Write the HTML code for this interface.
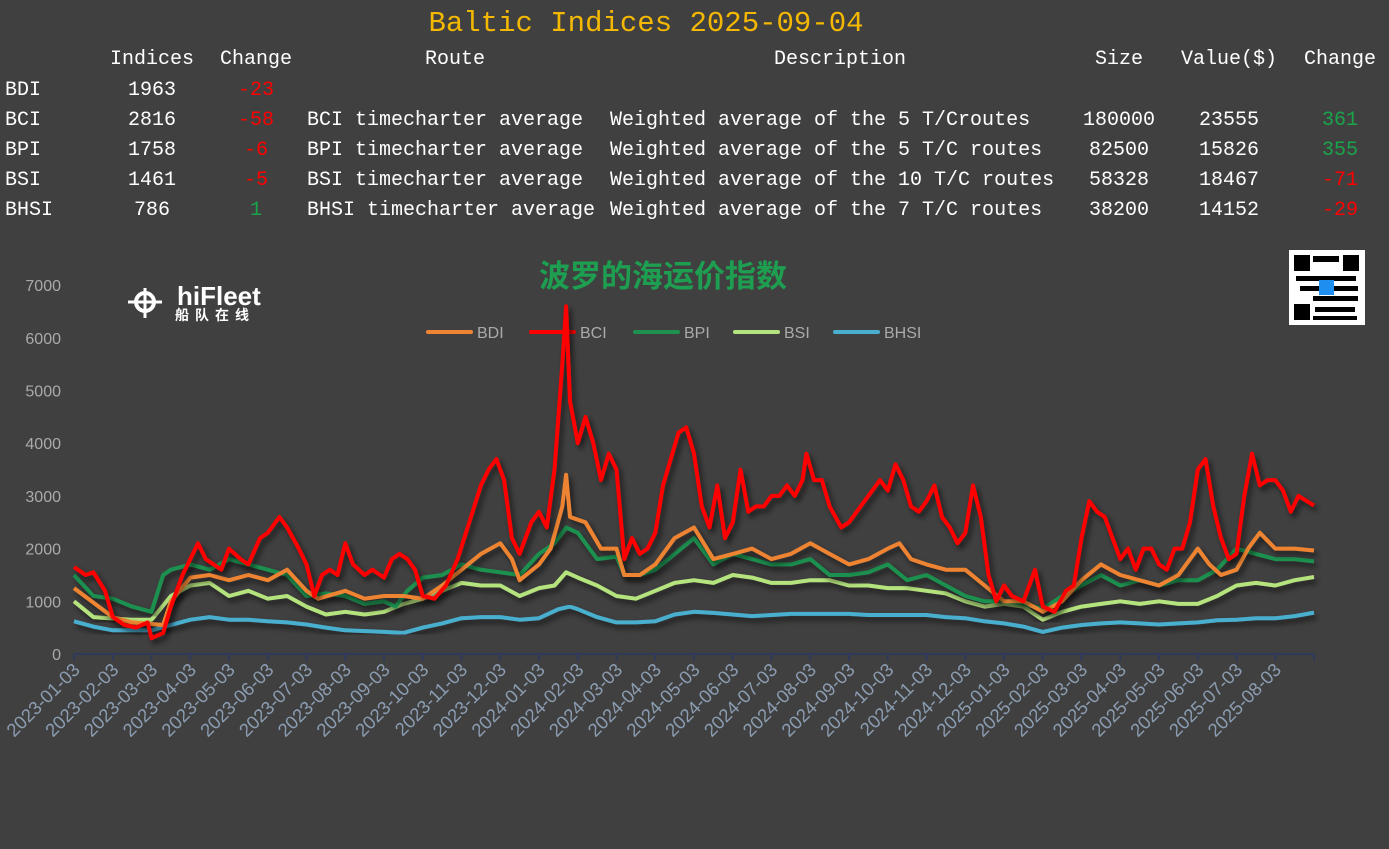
<!DOCTYPE html>
<html><head><meta charset="utf-8"><style>
body{margin:0;background:#404040;width:1389px;height:849px;overflow:hidden;position:relative;font-family:"Liberation Mono","Noto Sans CJK SC",monospace;}
.t{position:absolute;color:#fff;font-size:20px;line-height:24px;white-space:pre;}
.c{transform:translateX(-50%);}
.r{color:#ff0000}.g{color:#1aa34a}
</style></head><body>
<div class="t c" style="left:646px;top:6px;font-size:29px;line-height:36px;color:#f5b800">Baltic Indices 2025-09-04</div>
<div class="t c" style="left:152px;top:48px">Indices</div>
<div class="t c" style="left:256px;top:48px">Change</div>
<div class="t c" style="left:455px;top:48px">Route</div>
<div class="t c" style="left:840px;top:48px">Description</div>
<div class="t c" style="left:1119px;top:48px">Size</div>
<div class="t c" style="left:1229px;top:48px">Value($)</div>
<div class="t c" style="left:1340px;top:48px">Change</div>

<div class="t" style="left:5px;top:79px">BDI</div><div class="t c" style="left:152px;top:79px">1963</div><div class="t c r" style="left:256px;top:79px">-23</div>

<div class="t" style="left:5px;top:109px">BCI</div><div class="t c" style="left:152px;top:109px">2816</div><div class="t c r" style="left:256px;top:109px">-58</div>
<div class="t" style="left:307px;top:109px">BCI timecharter average</div><div class="t" style="left:610px;top:109px">Weighted average of the 5 T/Croutes</div>
<div class="t c" style="left:1119px;top:109px">180000</div><div class="t c" style="left:1229px;top:109px">23555</div><div class="t c g" style="left:1340px;top:109px">361</div>

<div class="t" style="left:5px;top:139px">BPI</div><div class="t c" style="left:152px;top:139px">1758</div><div class="t c r" style="left:256px;top:139px">-6</div>
<div class="t" style="left:307px;top:139px">BPI timecharter average</div><div class="t" style="left:610px;top:139px">Weighted average of the 5 T/C routes</div>
<div class="t c" style="left:1119px;top:139px">82500</div><div class="t c" style="left:1229px;top:139px">15826</div><div class="t c g" style="left:1340px;top:139px">355</div>

<div class="t" style="left:5px;top:169px">BSI</div><div class="t c" style="left:152px;top:169px">1461</div><div class="t c r" style="left:256px;top:169px">-5</div>
<div class="t" style="left:307px;top:169px">BSI timecharter average</div><div class="t" style="left:610px;top:169px">Weighted average of the 10 T/C routes</div>
<div class="t c" style="left:1119px;top:169px">58328</div><div class="t c" style="left:1229px;top:169px">18467</div><div class="t c r" style="left:1340px;top:169px">-71</div>

<div class="t" style="left:5px;top:199px">BHSI</div><div class="t c" style="left:152px;top:199px">786</div><div class="t c g" style="left:256px;top:199px">1</div>
<div class="t" style="left:307px;top:199px">BHSI timecharter average</div><div class="t" style="left:610px;top:199px">Weighted average of the 7 T/C routes</div>
<div class="t c" style="left:1119px;top:199px">38200</div><div class="t c" style="left:1229px;top:199px">14152</div><div class="t c r" style="left:1340px;top:199px">-29</div>

<svg id="ch" width="1389" height="849" style="position:absolute;left:0;top:0" xmlns="http://www.w3.org/2000/svg">
<defs><filter id="sh" x="-5%" y="-5%" width="110%" height="110%"><feDropShadow dx="3" dy="4" stdDeviation="3" flood-color="#000" flood-opacity="0.6"/></filter></defs>
<text x="663" y="287" text-anchor="middle" font-family="Liberation Sans,Noto Sans CJK SC,sans-serif" font-weight="bold" font-size="31" fill="#1e9e50">波罗的海运价指数</text>
<g font-family="Liberation Sans,Noto Sans CJK SC,sans-serif">
<text x="177" y="305" font-size="26" font-weight="bold" fill="#fff">hiFleet</text>
<text x="175" y="320" font-size="14" font-weight="bold" fill="#fff" letter-spacing="6">船队在线</text>
<circle cx="145" cy="302" r="9" fill="none" stroke="#fff" stroke-width="4"/>
<line x1="128" y1="302" x2="162" y2="302" stroke="#fff" stroke-width="3"/><line x1="145" y1="288" x2="145" y2="318" stroke="#fff" stroke-width="3"/>
</g>
<rect x="1289" y="250" width="76" height="75" fill="#fff"/>
<g fill="#000"><rect x="1294" y="255" width="16" height="16"/><rect x="1343" y="255" width="16" height="16"/><rect x="1294" y="304" width="16" height="16"/>
<rect x="1313" y="256" width="26" height="6"/><rect x="1296" y="276" width="60" height="5"/><rect x="1300" y="286" width="58" height="5"/><rect x="1313" y="296" width="45" height="5"/><rect x="1315" y="307" width="40" height="5"/><rect x="1313" y="316" width="44" height="4"/></g>
<rect x="1319" y="280" width="15" height="15" fill="#1e8ef0"/>
<g id="leg" font-family="Liberation Sans,sans-serif" font-size="16" fill="#aaa"></g>
<g id="ax" font-family="Liberation Sans,sans-serif"></g>
<g id="lines"></g>
</svg>
<script>
var NS="http://www.w3.org/2000/svg";
function X(m){return 74+38.75*m}function Y(v){return 654-v*0.0527}
function el(t,a,p,txt){var e=document.createElementNS(NS,t);for(var k in a)e.setAttribute(k,a[k]);if(txt)e.textContent=txt;p.appendChild(e);return e}
var ax=document.getElementById('ax');
for(var i=0;i<=7;i++){el('text',{x:61,y:Y(i*1000)+6,'text-anchor':'end','font-size':16,fill:'#aaa'},ax,String(i*1000))}
el('line',{x1:74,y1:654,x2:1314,y2:654,stroke:'#2f3a5a','stroke-width':2},ax);
for(var m=0;m<=32;m++){var x=X(m);el('line',{x1:x,y1:654,x2:x,y2:661,stroke:'#2f3a5a','stroke-width':2},ax);
if(m<32){var yr=2023+Math.floor(m/12),mo=m%12+1;var s=yr+'-'+(mo<10?'0':'')+mo+'-03';
el('text',{x:x+7,y:671,'text-anchor':'end','font-size':18.5,fill:'#8c9db2',transform:'rotate(-45 '+(x+7)+' 671)'},ax,s)}}
function P(a){var o=[];for(var i=0;i<a.length;i+=2)o.push(X(a[i]).toFixed(1)+','+Y(a[i+1]).toFixed(1));return o.join(' ')}
var S={
BHSI:['#4aafcf',[0,620,0.5,520,1,450,2,450,2.5,550,3,650,3.5,700,4,650,4.5,650,5,620,5.5,600,6,560,6.5,500,7,450,8,420,8.5,400,9,500,9.5,580,10,680,10.5,700,11,700,11.5,650,12,680,12.5,850,12.8,900,13,850,13.5,700,14,600,14.5,600,15,620,15.5,750,16,800,16.5,780,17,750,17.5,720,18,740,18.5,760,19,760,19.5,760,20,760,20.5,740,21,740,21.5,740,22,740,22.5,700,23,680,23.5,620,24,580,24.5,520,25,420,25.5,500,26,550,26.5,580,27,600,27.5,580,28,560,28.5,580,29,600,29.5,640,30,650,30.5,680,31,680,31.5,720,32,786]],
BSI:['#b5e37d',[0,1000,0.5,700,1.5,650,2,650,2.5,1100,3,1300,3.5,1350,4,1100,4.5,1200,5,1050,5.5,1100,6,900,6.5,750,7,800,7.5,750,8,800,8.5,950,9,1050,9.5,1200,10,1350,10.5,1300,11,1300,11.5,1100,12,1250,12.4,1300,12.7,1550,13,1450,13.5,1300,14,1100,14.5,1050,15,1200,15.5,1350,16,1400,16.5,1350,17,1500,17.5,1450,18,1350,18.5,1350,19,1400,19.5,1400,20,1300,20.5,1300,21,1250,21.5,1250,22,1200,22.5,1150,23,1000,23.5,900,24,950,24.5,900,25,650,25.5,800,26,900,26.5,950,27,1000,27.5,950,28,1000,28.5,950,29,950,29.5,1100,30,1300,30.5,1350,31,1300,31.5,1400,32,1461]],
BPI:['#1e9150',[0,1500,0.5,1100,1,1050,1.5,900,2,800,2.3,1500,2.5,1600,3,1700,3.5,1600,4,1800,4.5,1700,5,1600,5.5,1500,6,1100,6.5,1150,7,1100,7.5,950,8,1000,8.3,900,8.6,1200,9,1450,9.5,1500,10,1700,10.5,1600,11,1550,11.5,1500,12,1900,12.4,2100,12.7,2400,13,2300,13.5,1800,14,1850,14.2,1500,14.6,1500,15,1600,15.5,1900,16,2200,16.5,1700,17,1900,17.5,1800,18,1700,18.5,1700,19,1800,19.5,1500,20,1500,20.5,1550,21,1700,21.5,1400,22,1500,22.5,1300,23,1100,23.5,1000,24,1000,24.5,950,25,850,25.5,1100,26,1300,26.5,1500,27,1300,27.5,1400,28,1300,28.5,1400,29,1400,29.5,1600,30,2000,30.5,1900,31,1800,31.5,1800,32,1758]],
BDI:['#ee8433',[0,1250,1,700,1.5,600,2.3,550,2.5,1000,3,1450,3.5,1500,4,1400,4.5,1500,5,1400,5.5,1600,6,1200,6.3,1050,7,1200,7.5,1050,8,1100,8.5,1100,9,1050,9.5,1300,10,1600,10.5,1900,11,2100,11.3,1800,11.5,1400,12,1700,12.3,2000,12.6,2800,12.7,3400,12.8,2600,13.2,2500,13.6,2000,14,2000,14.2,1500,14.6,1500,15,1700,15.5,2200,16,2400,16.5,1800,17,1900,17.5,2000,18,1800,18.5,1900,19,2100,19.5,1900,20,1700,20.5,1800,21,2000,21.3,2100,21.6,1800,22,1700,22.5,1600,23,1600,23.5,1300,24,1000,24.5,1000,25,800,25.5,1000,26,1400,26.5,1700,27,1500,27.5,1400,28,1300,28.5,1500,29,2000,29.3,1700,29.6,1500,30,1600,30.3,2000,30.6,2300,31,2000,31.5,2000,32,1963]],
BCI:['#ff0000',[0,1650,0.3,1500,0.5,1550,0.8,1200,1,700,1.3,550,1.6,500,1.9,600,2,300,2.3,400,2.5,900,2.8,1500,3,1800,3.2,2100,3.4,1800,3.6,1700,3.8,1600,4,2000,4.3,1800,4.5,1700,4.8,2200,5,2300,5.3,2600,5.5,2400,5.8,2000,6,1700,6.2,1100,6.4,1500,6.6,1600,6.8,1500,7,2100,7.2,1700,7.5,1500,7.7,1600,8,1450,8.2,1800,8.4,1900,8.6,1800,8.8,1600,9,1100,9.3,1050,9.6,1300,9.9,1800,10.2,2500,10.5,3200,10.7,3500,10.9,3700,11.1,3300,11.3,2200,11.5,1900,11.8,2500,12,2700,12.2,2400,12.4,3500,12.6,5500,12.7,6600,12.8,4800,13,4000,13.2,4500,13.4,4000,13.6,3300,13.8,3800,14,3500,14.2,1800,14.4,2200,14.6,1900,14.8,2000,15,2300,15.2,3200,15.4,3700,15.6,4200,15.8,4300,16,3800,16.2,2800,16.4,2400,16.6,3200,16.8,2200,17,2500,17.2,3500,17.4,2700,17.6,2800,17.8,2800,18,3000,18.2,3000,18.4,3200,18.6,3000,18.8,3300,18.9,3800,19.1,3300,19.3,3300,19.5,2800,19.8,2400,20,2500,20.3,2800,20.6,3100,20.8,3300,21,3100,21.2,3600,21.4,3300,21.6,2800,21.8,2700,22,2900,22.2,3200,22.4,2600,22.6,2400,22.8,2100,23,2300,23.2,3200,23.4,2600,23.6,1500,23.8,1000,24,1300,24.2,1100,24.5,1000,24.8,1600,25,900,25.3,800,25.6,1200,25.8,1300,26,2200,26.2,2900,26.4,2700,26.6,2600,26.8,2200,27,1800,27.2,2000,27.4,1600,27.6,2000,27.8,2000,28,1700,28.2,1600,28.4,2000,28.6,2000,28.8,2500,29,3500,29.2,3700,29.4,2800,29.6,2200,29.8,1800,30,1900,30.2,3000,30.4,3800,30.6,3200,30.8,3300,31,3300,31.2,3100,31.4,2700,31.6,3000,32,2816]]};
var L=document.getElementById('lines');
for(var k in S){el('polyline',{points:P(S[k][1]),fill:'none',stroke:S[k][0],'stroke-width':4,'stroke-linejoin':'round',filter:'url(#sh)'},L)}
var lg=document.getElementById('leg');var lx={BDI:428,BCI:531,BPI:635,BSI:735,BHSI:835};
for(var k in lx){el('line',{x1:lx[k],y1:332,x2:lx[k]+43,y2:332,stroke:S[k][0],'stroke-width':4,'stroke-linecap':'round'},lg);el('text',{x:lx[k]+49,y:338},lg,k)}
</script>
</body></html>
